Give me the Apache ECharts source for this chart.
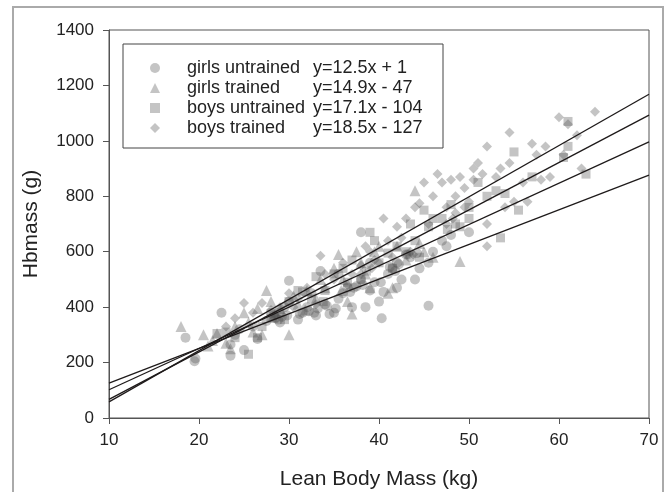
<!DOCTYPE html>
<html>
<head>
<meta charset="utf-8">
<script src="https://cdn.jsdelivr.net/npm/echarts@6/dist/echarts.min.js"></script>
<style>
  html, body { margin: 0; padding: 0; background: #fff; }
  #chart { width: 666px; height: 492px; }
</style>
</head>
<body>
<div id="chart"></div>
<script>
// group names, legend equations, regression coefficients
var groups = ['girls untrained', 'girls trained', 'boys untrained', 'boys trained'];
var equations = ['y=12.5x + 1', 'y=14.9x - 47', 'y=17.1x - 104', 'y=18.5x - 127'];
var slopes = [12.5, 14.9, 17.1, 18.5];
var intercepts = [1, -47, -104, -127];
var symbols = ['circle', 'triangle', 'rect', 'diamond'];
var symbolSizes = [10, 11, 9, 10];

// [lean body mass (kg), Hbmass (g)]
var girlsUntrained = [
    [18.5,290],[19.5,205],[19.6,215],[22.5,380],[23.5,225],[23.5,265],[24,300],[24.5,320],
    [25,245],[26,330],[26.5,285],[27.5,350],[28,380],[28.3,370],[28.5,360],[28.8,355],
    [29,345],[29.2,365],[29.5,400],[30,495],[30,420],[31,355],[31.2,375],[31.5,380],
    [32,400],[32.2,385],[32.5,450],[33,370],[33.2,395],[33.5,530],[34,410],[34.2,405],
    [34.5,375],[35,380],[35.2,395],[35.5,430],[35.5,520],[36,450],[36.5,470],[37,400],
    [37.2,470],[37.5,475],[38,670],[38,500],[38.2,480],[38.5,400],[39,460],[39,560],
    [39.5,490],[40,420],[40.2,490],[40.3,360],[40.5,455],[41,520],[41.2,545],[41.5,540],
    [42,560],[42,470],[42.2,555],[42.5,500],[43,590],[43.2,590],[43.5,580],[44,500],
    [44.2,595],[44.5,540],[45.5,405],[45.5,560],[46,600],[47,640],[47.5,620],[48,660],[50,670],
    [29.8,370],[32.8,380],[36.8,455],[41.8,530]
];
var girlsTrained = [
    [18,330],[20.5,300],[21,260],[21.5,280],[22,305],[23,270],[23.5,250],[24,330],
    [25,380],[25.5,345],[26,310],[26.5,395],[27,300],[27.5,460],[28,420],[28.5,380],
    [29,395],[30,300],[30.5,440],[31,410],[32,460],[33,430],[33.5,500],[34,470],
    [35,540],[35.5,590],[36,500],[36.5,420],[37,375],[37.5,600],[38,560],[38.5,520],
    [39,470],[39.5,600],[40,620],[41,450],[41.5,470],[42,620],[43,570],[44,820],
    [44.5,630],[45,600],[46,580],[49,565],[28.2,365],[31.8,390],[35.8,460]
];
var boysUntrained = [
    [22,305],[23,310],[24,290],[25.5,230],[26.5,290],[27,330],[28,360],[29,380],
    [30,420],[31,460],[31.5,455],[32.5,430],[33,510],[34,460],[35,520],[36,540],
    [36.5,490],[37,570],[38,500],[39,670],[39.5,640],[40,560],[41,595],[41.5,540],
    [42,620],[43,600],[43.5,700],[44,640],[44.5,580],[45,750],[45.5,690],[46,720],
    [47,720],[48,770],[48.5,700],[49,690],[50,760],[50,720],[51,850],[52,800],
    [53,820],[53.5,650],[54,810],[55,960],[55.5,750],[57,870],[60.5,940],[61,1070],
    [61,980],[63,880],[29.5,355],[33.8,420],[38.6,530],[47.6,680]
];
var boysTrained = [
    [23,330],[24,360],[25,415],[26,380],[27,415],[28,390],[28.5,370],[29,400],
    [30,450],[30.5,400],[31,430],[32,470],[33,410],[33.5,585],[34,520],[35,500],
    [36,560],[36.5,480],[37,520],[38,550],[38,520],[38.5,620],[39,600],[39.5,570],
    [40,560],[40.5,720],[41,640],[41.5,580],[42,690],[42.5,650],[43,720],[43.5,600],
    [44,760],[44.5,775],[45,850],[45.5,700],[46,800],[46.5,880],[47,850],[47.5,760],
    [47.5,700],[48,860],[48.5,800],[48.5,740],[49,870],[49.5,830],[49.5,760],[50,780],
    [50.5,900],[50.5,860],[51,920],[51.5,880],[52,980],[52,700],[52,620],[53,870],
    [53.5,900],[54,760],[54.5,1030],[54.5,920],[55,780],[56,850],[56.5,780],[57,990],
    [57.5,950],[58,860],[58.5,980],[59,870],[60,1085],[60.5,950],[61,1060],[62,1020],
    [62.5,900],[64,1105],[43.8,590],[48.2,720],[39.2,540]
];
var groupData = [girlsUntrained, girlsTrained, boysUntrained, boysTrained];

var xMin = 10, xMax = 70;
var font = "'Liberation Sans', Arial, sans-serif";

var series = [];
groups.forEach(function (name, i) {
    series.push({
        name: name,
        type: 'scatter',
        symbol: symbols[i],
        symbolSize: symbolSizes[i],
        itemStyle: { color: 'rgba(80,80,80,0.42)' },
        data: groupData[i],
        z: 2
    });
});
// regression lines drawn across the axis range
groups.forEach(function (name, i) {
    series.push({
        name: name + ' fit',
        type: 'line',
        symbol: 'none',
        silent: true,
        lineStyle: { color: '#1e1a1a', width: 1.3 },
        data: [[xMin, slopes[i] * xMin + intercepts[i]], [xMax, slopes[i] * xMax + intercepts[i]]],
        z: 3
    });
});

var myChart = echarts.init(document.getElementById('chart'));
myChart.setOption({
    animation: false,
    backgroundColor: '#fff',
    textStyle: { fontFamily: font },
    graphic: [{
        type: 'rect',
        shape: { x: 13, y: 7, width: 650, height: 500 },
        style: { fill: 'none', stroke: '#aaa', lineWidth: 2 },
        silent: true
    }],
    grid: {
        left: 109, right: 17, top: 30, bottom: 74,
        outerBoundsMode: 'none',
        show: true, borderColor: '#555', borderWidth: 1
    },
    legend: {
        data: groups,
        orient: 'vertical',
        left: 123, top: 44,
        itemWidth: 10, itemHeight: 10,
        itemGap: 0,
        padding: [14, 12, 10, 27],
        borderColor: '#444', borderWidth: 1,
        selectedMode: false,
        formatter: function (name) {
            return '{s| }{n|' + name + '}{e|' + equations[groups.indexOf(name)] + '}';
        },
        textStyle: {
            fontFamily: font, fontSize: 18, color: '#222', lineHeight: 20,
            rich: {
                s: { width: 22, fontSize: 18, lineHeight: 20 },
                n: { width: 126, fontSize: 18, lineHeight: 20, fontFamily: font, color: '#222' },
                e: { width: 118, fontSize: 18, lineHeight: 20, fontFamily: font, color: '#222' }
            }
        }
    },
    xAxis: {
        type: 'value',
        min: xMin, max: xMax, interval: 10,
        name: 'Lean Body Mass (kg)',
        nameLocation: 'middle',
        nameGap: 51,
        nameTextStyle: { fontSize: 21, color: '#222', fontFamily: font },
        axisLine: { lineStyle: { color: '#555' } },
        axisTick: { length: 6, lineStyle: { color: '#555' } },
        axisLabel: { fontSize: 17, color: '#222', margin: 14, fontFamily: font },
        splitLine: { show: false }
    },
    yAxis: {
        type: 'value',
        min: 0, max: 1400, interval: 200,
        name: 'Hbmass (g)',
        nameLocation: 'middle',
        nameGap: 67,
        nameTextStyle: { fontSize: 21, color: '#222', fontFamily: font },
        axisLine: { show: true, lineStyle: { color: '#555' } },
        axisTick: { show: true, length: 6, lineStyle: { color: '#555' } },
        axisLabel: {
            fontSize: 17, color: '#222', margin: 15, fontFamily: font,
            formatter: function (v) { return String(v); }
        },
        splitLine: { show: false }
    },
    series: series
});
</script>
</body>
</html>
